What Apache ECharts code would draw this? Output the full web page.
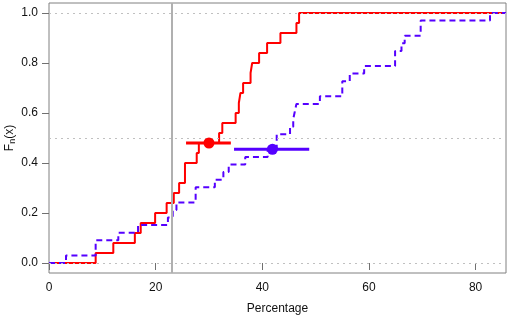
<!DOCTYPE html>
<html>
<head>
<meta charset="utf-8">
<script src="https://cdn.jsdelivr.net/npm/echarts@6/dist/echarts.min.js"></script>
<style>
html, body { margin: 0; padding: 0; background: #fff; }
#main { width: 510px; height: 322px; }
</style>
</head>
<body>
<div id="main"></div>
<script>
var redObs = [8.75, 12.06, 16.1, 17.2, 19.9, 22.06, 23.4, 24.4, 25.5, 25.5, 27.7, 28.1,
    31.9, 32.5, 35.0, 35.6, 35.9, 36.4, 37.8, 38.1, 39.4, 40.9, 43.4, 46.4, 46.9];
var blueObs = [3.19, 8.75, 8.75, 13.0, 16.7, 22.3, 23.2, 23.9, 27.5, 27.5, 31.1, 32.7, 33.7,
    36.8, 41.0, 42.7, 42.7, 45.2, 45.8, 46.1, 46.4, 50.8, 55.0, 55.0, 56.4, 59.1,
    64.9, 64.9, 66.1, 66.7, 69.7, 69.7, 82.7];

// summary point + interval for each group
var redPoint = [30.0, 0.48];
var redRange = [25.7, 34.1];
var bluePoint = [41.9, 0.455];
var blueRange = [34.7, 48.8];

var xTicks = [0, 20, 40, 60, 80];
var yTicks = [0, 0.2, 0.4, 0.6, 0.8, 1.0];
var refLines = [0, 0.5, 1];
var cutX = 23;

var xMin = 0, xMax = 85.7;

// build ecdf steps
function ecdf(obs) {
    var out = [[xMin, 0]];
    var n = obs.length;
    for (var i = 0; i < n; i++) {
        if (i < n - 1 && obs[i + 1] == obs[i]) continue;
        out.push([obs[i], (i + 1) / n]);
    }
    out.push([xMax, 1]);
    return out;
}

var red = '#ff0000';
var blue = '#5500ff';

var myChart = echarts.init(document.getElementById('main'));
var option = {
    animation: false,
    textStyle: { fontFamily: 'Liberation Sans, Arial, sans-serif' },
    grid: {
        left: 49, right: 4, top: 3, bottom: 49,
        outerBoundsMode: 'none',
        containLabel: false,
        show: true, borderColor: '#808080', borderWidth: 1
    },
    xAxis: {
        type: 'value',
        min: xMin, max: xMax,
        name: 'Percentage',
        nameLocation: 'middle',
        nameGap: 30,
        nameTextStyle: { color: '#111', fontSize: 12, fontFamily: 'Liberation Sans' },
        axisLine: { show: false },
        splitLine: { show: false },
        axisTick: {
            show: true, inside: false, length: 7,
            customValues: xTicks,
            lineStyle: { color: '#707070', width: 1 }
        },
        axisLabel: {
            customValues: xTicks,
            margin: 9,
            color: '#111', fontSize: 12, fontFamily: 'Liberation Sans'
        }
    },
    yAxis: {
        type: 'value',
        min: -0.04, max: 1.04,
        name: 'F{sub|n}(x)',
        nameLocation: 'middle',
        nameRotate: 90,
        nameGap: 32,
        nameMoveOverlap: false,
        nameTextStyle: {
            color: '#111', fontSize: 12, fontFamily: 'Liberation Sans',
            rich: { sub: { fontSize: 9, verticalAlign: 'bottom', padding: [6, 0, 0, 0], color: '#111' } }
        },
        axisLine: { show: false },
        splitLine: { show: false },
        axisTick: {
            show: true, inside: false, length: 7,
            customValues: yTicks,
            lineStyle: { color: '#707070', width: 1 }
        },
        axisLabel: {
            customValues: yTicks,
            margin: 11,
            color: '#111', fontSize: 12, fontFamily: 'Liberation Sans',
            formatter: function(v) { return v.toFixed(1); }
        }
    },
    series: [
        {
            type: 'line',
            data: [],
            markLine: {
                silent: true,
                symbol: ['none', 'none'],
                label: { show: false },
                lineStyle: { color: '#c0c0c0', type: [2, 4], width: 1.2 },
                data: refLines.map(function(v) { return { yAxis: v }; })
            },
            z: 1
        },
        {
            name: 'red',
            type: 'line',
            step: 'end',
            showSymbol: false,
            data: ecdf(redObs),
            lineStyle: { color: red, width: 2 },
            itemStyle: { color: red },
            z: 3
        },
        {
            name: 'blue',
            type: 'line',
            step: 'end',
            showSymbol: false,
            data: ecdf(blueObs),
            lineStyle: { color: blue, width: 2, type: [6, 4] },
            itemStyle: { color: blue },
            z: 4
        },
        {
            type: 'line',
            data: [],
            markLine: {
                silent: true,
                symbol: ['none', 'none'],
                label: { show: false },
                lineStyle: { color: '#b0b0b0', type: 'solid', width: 2 },
                data: [{ xAxis: cutX }]
            },
            z: 2
        },
        {
            type: 'line',
            showSymbol: false,
            data: [[redRange[0], redPoint[1]], [redRange[1], redPoint[1]]],
            lineStyle: { color: red, width: 3 },
            z: 5
        },
        {
            type: 'line',
            showSymbol: false,
            data: [[blueRange[0], bluePoint[1]], [blueRange[1], bluePoint[1]]],
            lineStyle: { color: blue, width: 3 },
            z: 5
        },
        {
            type: 'scatter',
            symbolSize: 11,
            data: [redPoint],
            itemStyle: { color: red, opacity: 1 },
            z: 6
        },
        {
            type: 'scatter',
            symbolSize: 11,
            data: [bluePoint],
            itemStyle: { color: blue, opacity: 1 },
            z: 6
        }
    ]
};
myChart.setOption(option);
</script>
</body>
</html>
